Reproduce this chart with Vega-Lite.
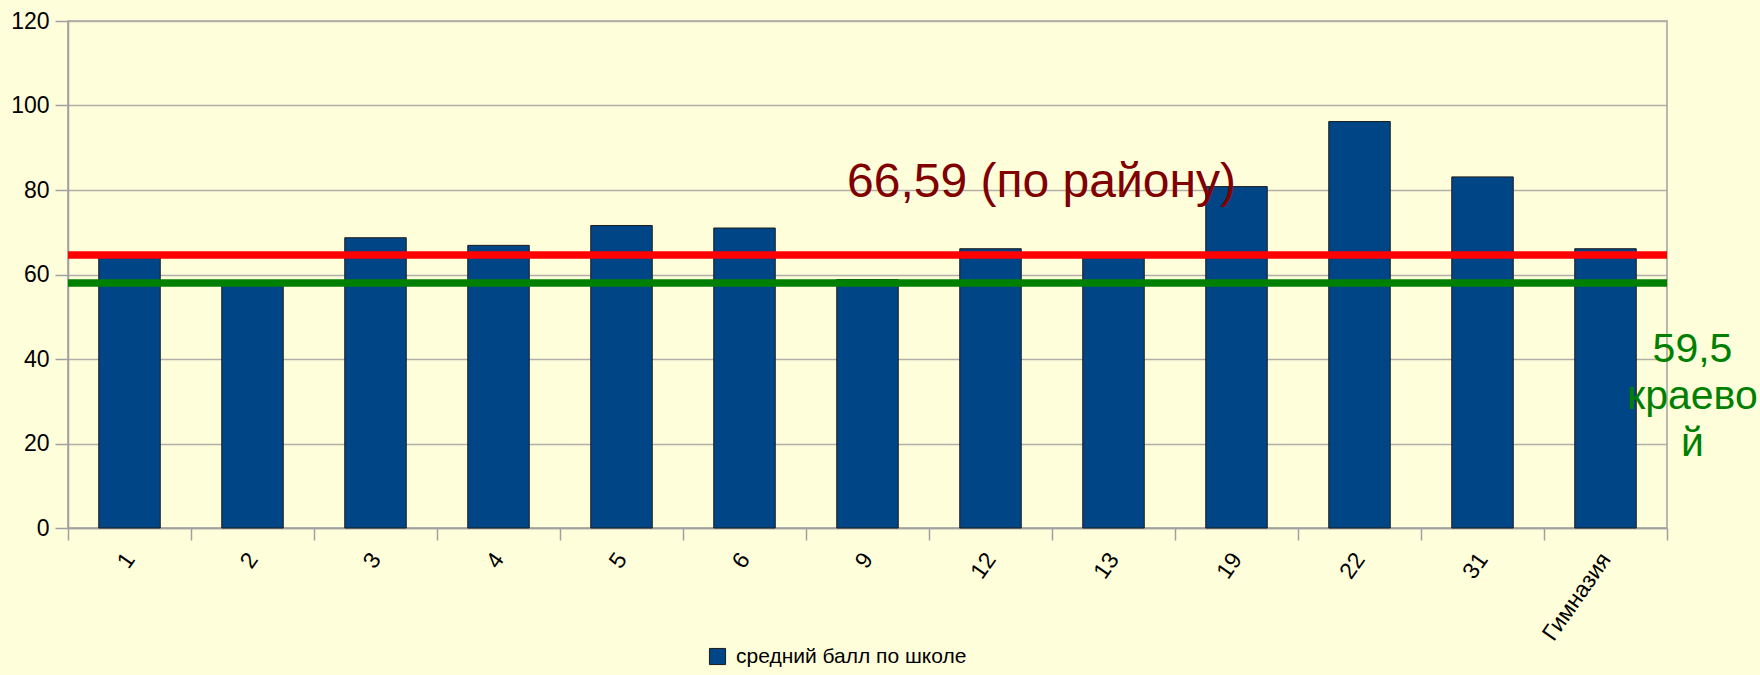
{
  "$schema": "https://vega.github.io/schema/vega-lite/v6.json",
  "width": 1599,
  "height": 507,
  "autosize": "none",
  "padding": {"left": 68, "top": 21, "right": 93, "bottom": 147},
  "background": "#fffedb",
  "config": {
    "font": "Liberation Sans",
    "view": {"stroke": "#a0a0a0", "strokeWidth": 1.5},
    "axis": {"labelFont": "Liberation Sans", "labelColor": "#000000", "domainColor": "#a0a0a0", "tickColor": "#a0a0a0", "gridColor": "#b0b0a8", "domainWidth": 1.5, "tickWidth": 1.5, "gridWidth": 1.5}
  },
  "datasets": {
    "schools": [
      {"school": "1", "score": 64.0, "series": "средний балл по школе"},
      {"school": "2", "score": 58.0, "series": "средний балл по школе"},
      {"school": "3", "score": 68.7, "series": "средний балл по школе"},
      {"school": "4", "score": 66.9, "series": "средний балл по школе"},
      {"school": "5", "score": 71.6, "series": "средний балл по школе"},
      {"school": "6", "score": 71.0, "series": "средний балл по школе"},
      {"school": "9", "score": 58.8, "series": "средний балл по школе"},
      {"school": "12", "score": 66.1, "series": "средний балл по школе"},
      {"school": "13", "score": 64.0, "series": "средний балл по школе"},
      {"school": "19", "score": 80.8, "series": "средний балл по школе"},
      {"school": "22", "score": 96.2, "series": "средний балл по школе"},
      {"school": "31", "score": 83.1, "series": "средний балл по школе"},
      {"school": "Гимназия", "score": 66.1, "series": "средний балл по школе"}
    ]
  },
  "layer": [
    {
      "data": {"name": "schools"},
      "mark": {"type": "bar", "stroke": "#1c1c1c", "strokeWidth": 1, "width": {"band": 0.5}},
      "encoding": {
        "x": {
          "field": "school", "type": "nominal", "sort": null,
          "scale": {"paddingInner": 0, "paddingOuter": 0},
          "axis": {"title": null, "labelAngle": -55, "labelAlign": "right", "labelBaseline": "middle", "labelFontSize": 23, "labelPadding": 15, "tickSize": 12, "tickBand": "extent", "grid": false, "labelOverlap": false}
        },
        "y": {
          "field": "score", "type": "quantitative",
          "scale": {"domain": [0, 120], "nice": false},
          "axis": {"title": null, "values": [0, 20, 40, 60, 80, 100, 120], "labelFontSize": 23, "tickSize": 13, "labelPadding": 6, "grid": true}
        },
        "color": {
          "field": "series", "type": "nominal",
          "scale": {"range": ["#004586"]},
          "legend": {"title": null, "orient": "none", "legendX": 639, "legendY": 625, "labelFontSize": 21, "labelLimit": 0, "labelFont": "Liberation Sans", "symbolType": "square", "symbolSize": 260, "symbolStrokeColor": "#1c1c1c", "symbolStrokeWidth": 1, "labelOffset": 8}
        }
      }
    },
    {
      "data": {"values": [{"level": "по району", "value": 64.6}]},
      "mark": {"type": "rule", "color": "#ff0000", "strokeWidth": 7.5},
      "encoding": {"y": {"field": "value", "type": "quantitative"}}
    },
    {
      "data": {"values": [{"level": "краевой", "value": 58.0}]},
      "mark": {"type": "rule", "color": "#008000", "strokeWidth": 7.5},
      "encoding": {"y": {"field": "value", "type": "quantitative"}}
    },
    {
      "data": {"values": [{"school": "12", "y": 78.3, "label": "66,59 (по району)"}]},
      "mark": {"type": "text", "color": "#800000", "fontSize": 48, "font": "Liberation Sans", "align": "center", "baseline": "alphabetic", "dx": 51},
      "encoding": {
        "x": {"field": "school", "type": "nominal", "sort": null},
        "y": {"field": "y", "type": "quantitative"},
        "text": {"field": "label"}
      }
    },
    {
      "data": {"values": [{"school": "Гимназия", "y": 39.3, "label": "59,5\nкраево\nй"}]},
      "mark": {"type": "text", "color": "#008000", "fontSize": 41, "font": "Liberation Sans", "align": "center", "baseline": "alphabetic", "lineBreak": "\n", "lineHeight": 47, "dx": 87},
      "encoding": {
        "x": {"field": "school", "type": "nominal", "sort": null},
        "y": {"field": "y", "type": "quantitative"},
        "text": {"field": "label"}
      }
    }
  ]
}
